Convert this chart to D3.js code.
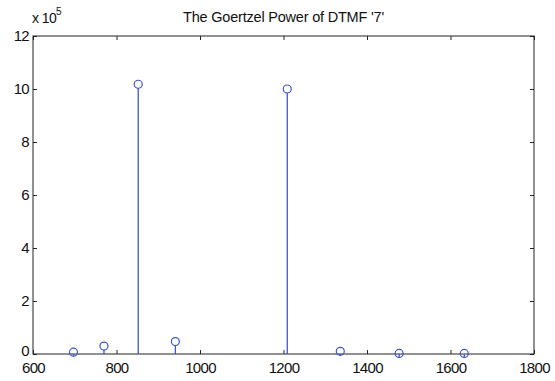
<!DOCTYPE html>
<html>
<head>
<meta charset="utf-8">
<script src="https://d3js.org/d3.v7.min.js"></script>
<style>
    body { margin: 0; background: #fff; }
    svg { display: block; font-family: "Liberation Sans", Arial, sans-serif; }
</style>
</head>
<body>
<svg id="chart" width="555" height="381"></svg>
<script>
// DTMF row / column frequencies (Hz) and Goertzel power (x 10^5)
const freqs = [697, 770, 852, 941, 1209, 1336, 1477, 1633];
const power = [0.07, 0.3, 10.18, 0.47, 10.0, 0.1, 0.02, 0.02];
const xTicks = [600, 800, 1000, 1200, 1400, 1600, 1800];
const yTicks = [0, 2, 4, 6, 8, 10, 12];

const width = 555, height = 381;
const margin = {top: 36, right: 21, bottom: 27, left: 33};
const blue = "#3d55c8";

const svg = d3.select("#chart");

const x = d3.scaleLinear().domain([600, 1800]).range([margin.left, width - margin.right]);
const y = d3.scaleLinear().domain([0, 12]).range([height - margin.bottom, margin.top]);

// frame box
svg.append("rect")
    .attr("x", x(600)).attr("y", y(12))
    .attr("width", x(1800) - x(600)).attr("height", y(0) - y(12))
    .attr("fill", "none").attr("stroke", "#222").attr("stroke-width", 1);

const styleAxis = g => {
    g.select(".domain").remove();
    g.selectAll(".tick line").attr("stroke", "#222");
    g.selectAll(".tick text").attr("fill", "#111")
        .style("font-size", "15px").style("letter-spacing", "-0.7px");
};

svg.append("g")
    .attr("transform", `translate(0,${y(0)})`)
    .call(d3.axisBottom(x).tickValues(xTicks).tickFormat(d3.format("d")).tickSize(-4).tickPadding(8))
    .call(styleAxis);

svg.append("g")
    .attr("transform", `translate(0,${y(12)})`)
    .call(d3.axisTop(x).tickValues(xTicks).tickSize(-4).tickFormat(""))
    .call(styleAxis);

svg.append("g")
    .attr("transform", `translate(${x(600)},0)`)
    .call(d3.axisLeft(y).tickValues(yTicks).tickFormat(d3.format("d")).tickSize(-4).tickPadding(4))
    .call(styleAxis)
    .call(g => g.selectAll(".tick text").filter(d => d === 0).attr("dy", "0.1em"));

svg.append("g")
    .attr("transform", `translate(${x(1800)},0)`)
    .call(d3.axisRight(y).tickValues(yTicks).tickSize(-4).tickFormat(""))
    .call(styleAxis);

// exponent label
const expo = svg.append("text")
    .attr("x", 32).attr("y", 23)
    .style("font-size", "14px").style("letter-spacing", "-0.6px")
    .attr("fill", "#111");
expo.append("tspan").text("x 10");
expo.append("tspan").attr("dy", -8).style("font-size", "10px").text("5");

// title
svg.append("text")
    .attr("x", (x(600) + x(1800)) / 2).attr("y", 22)
    .attr("text-anchor", "middle")
    .style("font-size", "14.5px").style("letter-spacing", "-0.2px")
    .attr("fill", "#111")
    .text("The Goertzel Power of DTMF '7'");

const data = freqs.map((f, i) => ({f: f, p: power[i]}));

svg.append("g")
    .selectAll("line")
    .data(data)
    .join("line")
    .attr("x1", d => x(d.f)).attr("x2", d => x(d.f))
    .attr("y1", y(0)).attr("y2", d => y(d.p) + 4)
    .attr("stroke", blue).attr("stroke-width", 1.3);

svg.append("g")
    .selectAll("circle")
    .data(data)
    .join("circle")
    .attr("cx", d => x(d.f)).attr("cy", d => y(d.p))
    .attr("r", 4)
    .attr("fill", "none").attr("stroke", blue).attr("stroke-width", 1.2);
</script>
</body>
</html>
